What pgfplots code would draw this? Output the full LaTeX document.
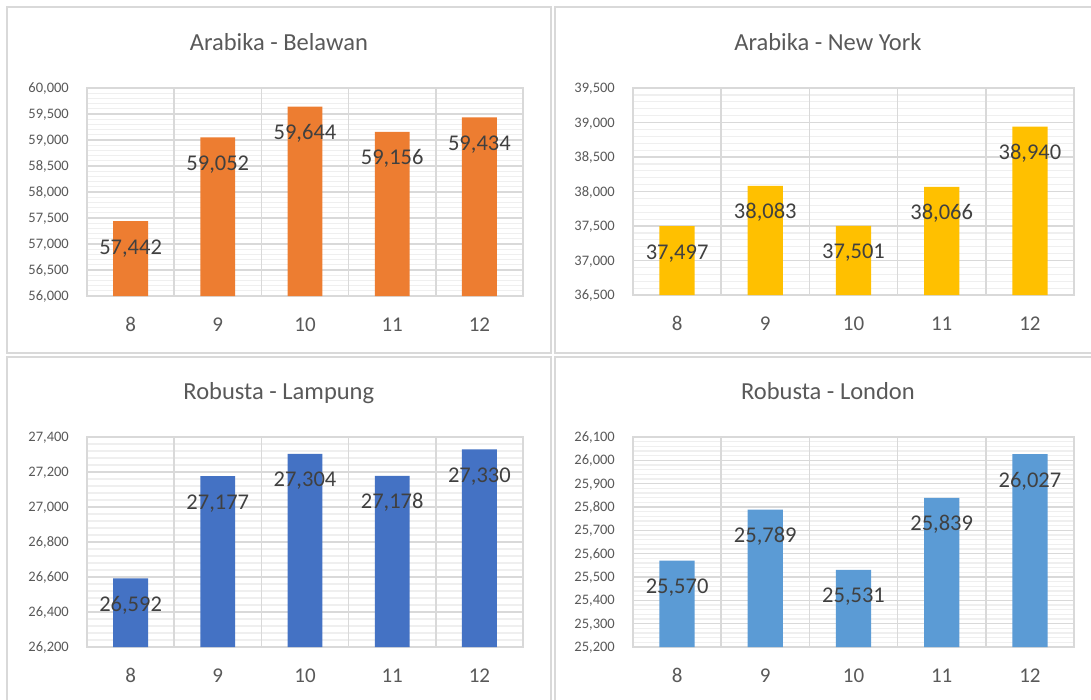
\documentclass[border=0pt]{standalone}
\usepackage{fontspec}
\setmainfont{Carlito}
\usepackage{pgfplots}
\pgfplotsset{compat=1.18}

\definecolor{gridmaj}{HTML}{D9D9D9}
\definecolor{gridmin}{HTML}{EFEFEF}
\definecolor{ticktxt}{HTML}{595959}
\definecolor{lbltxt}{HTML}{404040}
\definecolor{c1}{HTML}{ED7D31}
\definecolor{c2}{HTML}{FFC000}
\definecolor{c3}{HTML}{4472C4}
\definecolor{c4}{HTML}{5B9BD5}

\pgfplotsset{
  panel/.style={
    scale only axis,
    ybar, bar width=0.4,
    xmin=-0.5, xmax=4.5,
    xtick={0,...,4}, xticklabels={8,9,10,11,12},
    axis line style={draw=gridmaj, line width=1.5bp},
    major tick length=0pt, minor tick length=0pt,
    ymajorgrids, yminorgrids, minor y tick num=4,
    major grid style={draw=gridmaj, line width=1.5bp},
    minor grid style={draw=gridmin, line width=1.2bp},
    extra x ticks={0.5,1.5,2.5,3.5}, extra x tick labels={},
    extra x tick style={xmajorgrids=true},
    scaled y ticks=false,
    /pgf/number format/fixed,
    /pgf/number format/1000 sep={,},
    /pgf/number format/assume math mode=true,
    yticklabel style={font=\fontsize{14.5bp}{17bp}\selectfont, text=ticktxt,
      inner sep=0pt, anchor=base east, xshift=-18bp, yshift=-4.6bp},
    xticklabel style={font=\fontsize{21bp}{25bp}\selectfont, text=ticktxt,
      anchor=base, yshift=-35bp},
    every axis title shift=0pt,
    title style={font=\fontsize{24.5bp}{29bp}\selectfont, text=ticktxt,
      anchor=base, yshift=38bp},
    nodes near coords={\pgfmathprintnumber{\pgfplotspointmeta}},
    point meta=y,
    every node near coord/.append style={font=\fontsize{22.5bp}{27bp}\selectfont,
      text=lbltxt, anchor=base, yshift=-33bp},
  }
}

\begin{document}
\begin{tikzpicture}
\useasboundingbox (0,0) rectangle (1091bp,-700bp);
\fill[white] (0,0) rectangle (1091bp,-700bp);
\draw[gridmaj, line width=1.5bp] (7bp,-7bp) rectangle (551bp,-353bp);
\draw[gridmaj, line width=1.5bp] (555bp,-7bp) rectangle (1100bp,-353bp);
\draw[gridmaj, line width=1.5bp] (7bp,-357bp) rectangle (551bp,-710bp);
\draw[gridmaj, line width=1.5bp] (555bp,-357bp) rectangle (1100bp,-710bp);

% Arabika - Belawan
\begin{axis}[panel, at={(87bp,-296bp)}, anchor=south west,
  width=436bp, height=208bp,
  ymin=56000, ymax=60000, ytick={56000,56500,...,60000},
  title={Arabika - Belawan}, title style={at={(0.44,1)}}]
  \addplot[fill=c1, draw=none] coordinates {(0,57442) (1,59052) (2,59644) (3,59156) (4,59434)};
\end{axis}

% Arabika - New York
\begin{axis}[panel, at={(633bp,-295bp)}, anchor=south west,
  width=441bp, height=207bp,
  ymin=36500, ymax=39500, ytick={36500,37000,...,39500},
  title={Arabika - New York}, title style={at={(0.442,1)}}]
  \addplot[fill=c2, draw=none] coordinates {(0,37497) (1,38083) (2,37501) (3,38066) (4,38940)};
\end{axis}

% Robusta - Lampung
\begin{axis}[panel, at={(87bp,-647bp)}, anchor=south west,
  width=436bp, height=210bp,
  ymin=26200, ymax=27400, ytick={26200,26400,...,27400},
  title={Robusta - Lampung}, title style={at={(0.44,1)}}]
  \addplot[fill=c3, draw=none] coordinates {(0,26592) (1,27177) (2,27304) (3,27178) (4,27330)};
\end{axis}

% Robusta - London
\begin{axis}[panel, at={(633bp,-647bp)}, anchor=south west,
  width=441bp, height=210bp,
  ymin=25200, ymax=26100, ytick={25200,25300,...,26100},
  title={Robusta - London}, title style={at={(0.442,1)}}]
  \addplot[fill=c4, draw=none] coordinates {(0,25570) (1,25789) (2,25531) (3,25839) (4,26027)};
\end{axis}
\end{tikzpicture}
\end{document}
